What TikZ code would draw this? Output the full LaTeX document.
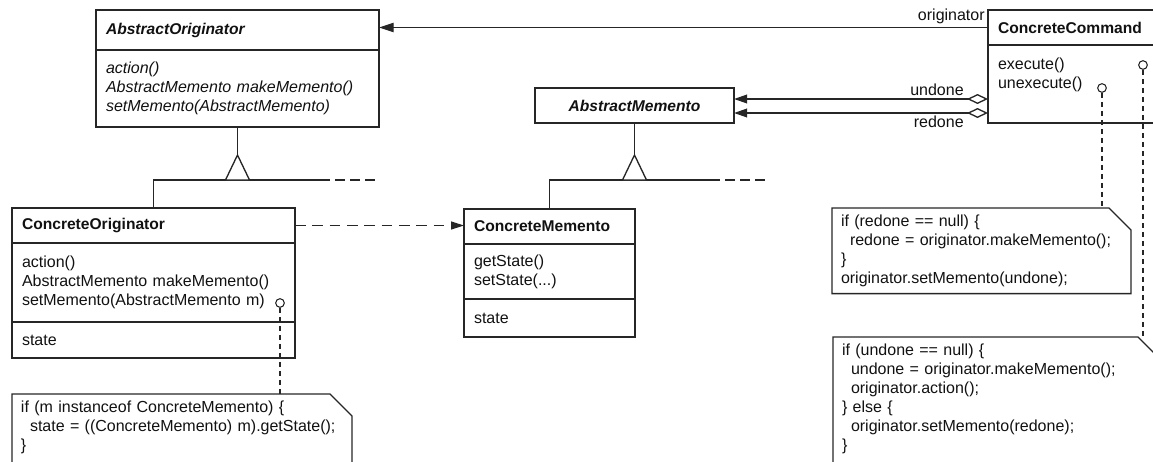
\documentclass[tikz,border=0pt]{standalone}
\usepackage{fontspec}
\setmainfont{Liberation Sans}
\usetikzlibrary{arrows.meta, positioning}
\definecolor{cline}{HTML}{262626}
\definecolor{ctext}{HTML}{111111}
\newcommand{\umlsize}{\fontsize{12}{14.25}\selectfont}
\newcommand{\namesize}{\fontsize{11.7}{14.25}\selectfont}
\tikzset{
  every picture/.style={font=\umlsize, line width=1pt, text=ctext},
  compart/.style={draw=cline, text width=#1, align=left, inner xsep=7.5pt, inner ysep=0pt, outer sep=0pt},
  clsname/.style={compart=#1, font=\namesize\bfseries},
  port/.style={circle, draw=cline, fill=white, minimum size=6.5pt, inner sep=0pt, line width=0.8pt},
  note/.style={text width=#1, align=left, inner xsep=6.75pt, inner ysep=5pt, text height=9pt, outer sep=0pt, anchor=north west},
  uml/.style={draw=cline},
  etc/.style={draw=cline, dash pattern=on 7.5pt off 3.75pt},
  assoc/.style={-{Triangle[length=11pt, width=7pt]}, draw=cline},
  aggr/.style={{Diamond[open, length=15.75pt, width=7.5pt]}-{Triangle[length=9.75pt, width=6.5pt]}, draw=cline},
  depend/.style={-{Triangle[length=9.75pt, width=6pt]}, draw=cline, dash pattern=on 8pt off 5pt},
  noteline/.style={draw=cline, line width=0.8pt, dash pattern=on 3.75pt off 3pt},
}

\begin{document}
\begin{tikzpicture}[x=0.75pt, y=-0.75pt]
  % \noteframe{node}: note outline with the folded corner
  \newcommand{\noteframe}[1]{
    \draw[uml] (#1.north west) -- ([xshift=-16.5pt]#1.north east) -- ([yshift=-16.5pt]#1.north east)
      -- (#1.south east) -- (#1.south west) -- cycle;}
  \useasboundingbox (0,0) rectangle (1153,461);
  \clip (0,0) rectangle (1153,461);

  % classes
  \node[clsname=197.25pt, minimum height=30pt, anchor=north west, font=\namesize\bfseries\itshape] (ao) at (96,10) {AbstractOriginator};
  \node[compart=197.25pt, minimum height=57.75pt, below=0pt of ao, font=\umlsize\itshape] (aom) {action()\\AbstractMemento makeMemento()\\setMemento(AbstractMemento)};

  \node[clsname=197.25pt, minimum height=26.25pt, anchor=north west] (co) at (12,208) {ConcreteOriginator};
  \node[compart=197.25pt, minimum height=59.25pt, below=0pt of co] (com) {action()\\AbstractMemento makeMemento()\\setMemento(AbstractMemento m)};
  \node[compart=197.25pt, minimum height=27pt, below=0pt of com] (cof) {state};

  \node[clsname=134.25pt, align=center, minimum height=26.25pt, anchor=north west, font=\namesize\bfseries\itshape] (am) at (535,88) {AbstractMemento};

  \node[clsname=113.25pt, minimum height=26.25pt, anchor=north west] (cm) at (464,209) {ConcreteMemento};
  \node[compart=113.25pt, minimum height=41.25pt, below=0pt of cm] (cmm) {getState()\\setState(...)};
  \node[compart=113.25pt, minimum height=28.5pt, below=0pt of cmm] (cmf) {state};

  \node[clsname=125.25pt, minimum height=26.25pt, anchor=north west] (cc) at (988,10) {ConcreteCommand};
  \node[compart=125.25pt, text height=18pt, text depth=40.5pt, below=0pt of cc] (ccm) {execute()\\unexecute()};

  % inheritance
  \draw[uml] (aom.south) -- (aom.south |- 0,155) coordinate (t1);
  \draw[uml] (co.north) |- (330,180) coordinate (h1);
  \draw[etc] (h1) ++(5,0) -- ++(40,0);
  \draw[uml, fill=white] (t1) -- ++(-12,25) -- ++(24,0) -- cycle;

  \draw[uml] (am.south) -- (am.south |- 0,155) coordinate (t2);
  \draw[uml] (cm.north) |- (720,180) coordinate (h2);
  \draw[etc] (h2) ++(5,0) -- ++(40,0);
  \draw[uml, fill=white] (t2) -- ++(-12,25) -- ++(24,0) -- cycle;

  % associations
  \draw[assoc] (cc.west) -- (cc.west -| aom.east)
    node[pos=0, anchor=south east, inner sep=2pt] {originator};
  \draw[aggr] ([yshift=18pt]ccm.south west) coordinate (u1) -- (u1 -| am.east)
    node[pos=0, anchor=south east, xshift=-15.75pt, inner sep=2pt] {undone};
  \draw[aggr] ([yshift=7.5pt]ccm.south west) coordinate (r1) -- (r1 -| am.east)
    node[pos=0, anchor=north east, xshift=-15.75pt, inner sep=2pt] {redone};
  \draw[depend] (co.east) -- (co.east -| cm.west);

  % notes
  \node[note=241.5pt, text depth=60pt] (n1) at (12,394) {if (m instanceof ConcreteMemento) \{\\\hspace*{6.75pt}state = ((ConcreteMemento) m).getState();\\\}};
  \node[note=210.75pt] (n2) at (832,208) {if (redone == null) \{\\\hspace*{6.75pt}redone = originator.makeMemento();\\\}\\originator.setMemento(undone);};
  \node[note=231.75pt, text depth=90pt] (n3) at (833,337) {if (undone == null) \{\\\hspace*{6.75pt}undone = originator.makeMemento();\\\hspace*{6.75pt}originator.action();\\\} else \{\\\hspace*{6.75pt}originator.setMemento(redone);\\\}};
  \noteframe{n1}
  \noteframe{n2}
  \noteframe{n3}

  \node[port] (p1) at (280,303) {};
  \node[port] (p2) at (1102,88) {};
  \node[port] (p3) at (1143,65) {};
  \draw[noteline] (p1.south) -- (p1.south |- n1.north);
  \draw[noteline] (p2.south) -- (p2.south |- n2.north);
  \draw[noteline] (p3.south) -- (p3.south |- n3.north);
\end{tikzpicture}
\end{document}
